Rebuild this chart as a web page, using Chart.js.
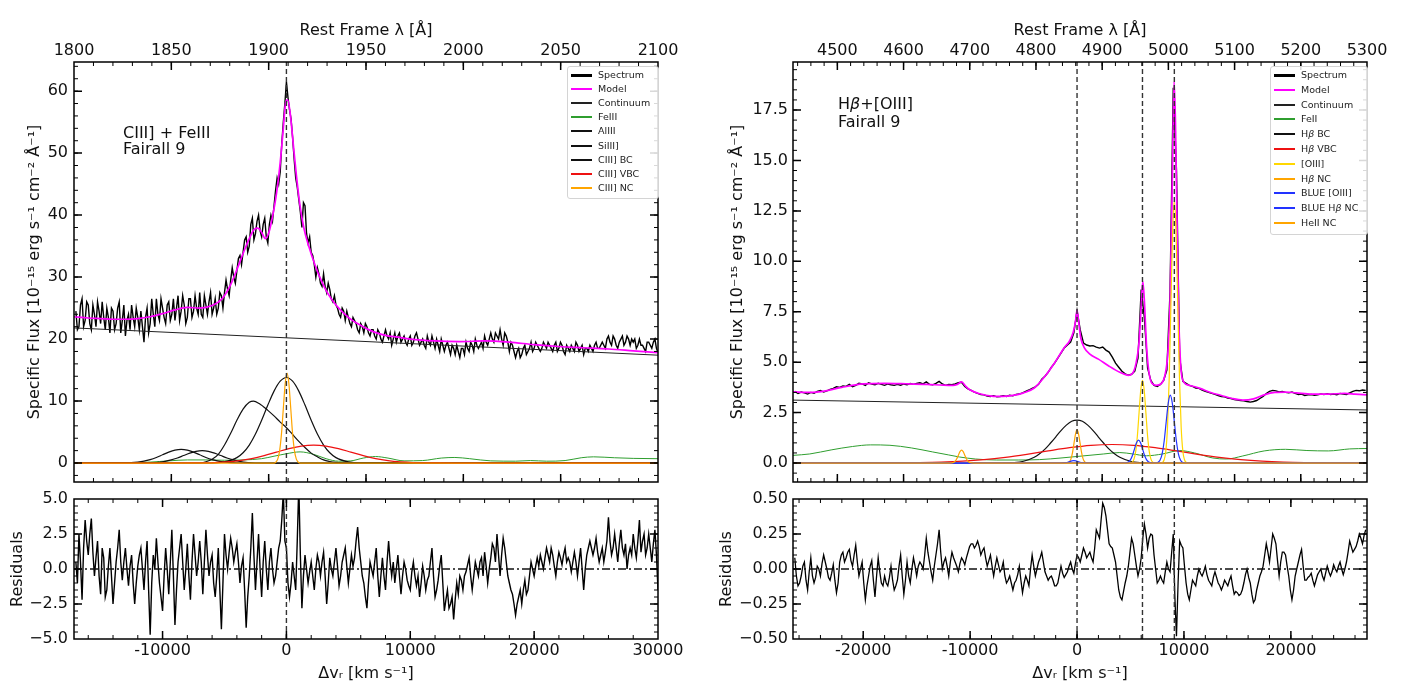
<!DOCTYPE html>
<html><head><meta charset="utf-8">
<script src="https://cdn.jsdelivr.net/npm/chart.js@4.4.0/dist/chart.umd.min.js"></script>
<style>
body{margin:0;background:#fff;width:1411px;height:700px;overflow:hidden;position:relative;font-family:'DejaVu Sans',sans-serif;}
canvas{position:absolute;left:0;top:0;}
.legend{position:absolute;border:1px solid #d4d4d4;border-radius:3px;background:rgba(255,255,255,0.85);font-size:9.5px;color:#222;}
.legend .row{position:absolute;height:14px;line-height:14px;white-space:nowrap;}
.legend .sw{position:absolute;}
.note{position:absolute;font-size:16px;color:#111;white-space:nowrap;}
</style></head><body>
<canvas id="c1" width="1411" height="700"></canvas>
<canvas id="c2" width="1411" height="700"></canvas>
<canvas id="c3" width="1411" height="700"></canvas>
<canvas id="c4" width="1411" height="700"></canvas>
<div class="note" style="left:123px;top:125px;line-height:16px;">CIII] + FeIII<br>Fairall 9</div>
<div class="note" style="left:838px;top:95px;line-height:18px;">H<i>β</i>+[OIII]<br>Fairall 9</div>
<script>
// ---------------- axis ranges & ticks ----------------
const leftVelRange = [-17150, 30000];
const leftLambdaRange = [1800, 2100];
const leftFluxRange = [-3.06, 64.7];
const leftResRange = [-5, 5];
const rightVelRange = [-26567, 27120];
const rightLambdaRange = [4433, 5300];
const rightFluxRange = [-0.94, 19.88];
const rightResRange = [-0.5, 0.5];

const leftLambdaTicks = [1800, 1850, 1900, 1950, 2000, 2050, 2100];
const leftVelTicks = [-10000, 0, 10000, 20000, 30000];
const leftFluxTicks = [0, 10, 20, 30, 40, 50, 60];
const leftResTicks = [-5, -2.5, 0, 2.5, 5];
const rightLambdaTicks = [4500, 4600, 4700, 4800, 4900, 5000, 5100, 5200, 5300];
const rightVelTicks = [-20000, -10000, 0, 10000, 20000];
const rightFluxTicks = [0, 2.5, 5, 7.5, 10, 12.5, 15, 17.5];
const rightResTicks = [-0.5, -0.25, 0, 0.25, 0.5];

const leftLineVel = [0];
const rightLineVel = [0, 6120, 9100];

// ---------------- left panel (CIII]) ----------------
const leftSpecGrid = [-17000, 30000];
const leftSpecFlux = [
24.5,22.0,26.5,23.0,25.5,21.5,24.0,26.0,22.5,23.5,
25.0,21.0,24.5,22.5,26.0,23.0,20.5,24.0,25.5,22.0,
23.5,24.5,19.5,25.0,22.5,24.0,26.5,23.0,25.0,22.5,
26.0,24.0,23.0,27.0,24.5,25.5,23.5,26.5,24.5,25.0,
27.5,23.5,25.5,26.0,24.0,26.5,25.0,27.0,27.5,28.0,
29.5,30.0,31.0,33.5,34.0,36.5,35.0,39.5,37.0,40.0,
36.5,39.5,35.5,40.0,41.5,46.0,47.0,55.0,61.5,57.0,
52.5,46.0,42.5,38.0,41.5,35.5,34.0,32.0,31.5,29.0,
30.5,27.5,28.0,26.0,25.5,24.0,25.0,23.0,23.5,22.0,
23.0,21.5,22.5,21.0,22.0,20.5,21.5,20.0,21.0,19.5,
21.5,20.0,19.0,21.0,20.5,19.5,20.5,19.0,20.5,19.5,
21.0,19.0,20.0,18.5,19.5,20.5,18.5,19.0,20.0,18.0,
19.5,17.5,18.5,19.0,17.0,18.5,19.5,18.0,19.0,20.0,
18.5,19.5,20.5,19.0,21.0,19.5,20.5,21.5,19.0,20.5,
18.0,19.0,17.0,18.5,17.5,19.0,18.0,19.5,18.5,19.0,
18.0,19.5,18.5,19.0,18.0,19.5,18.5,19.0,17.5,18.5,
19.0,18.0,19.0,18.5,17.5,18.5,19.0,18.0,19.5,18.5,
19.5,18.5,20.5,19.0,20.0,18.5,20.0,19.0,20.5,19.0,
19.5,18.5,20.0,19.0,18.0,19.5,18.5,20.0,17.8];
// values read between the samples above
const leftSpecFluxMid = [
21.5,25.5,22.0,26.0,22.5,25.5,22.0,24.5,26.0,21.5,
23.5,25.0,21.5,25.0,21.0,25.5,23.0,21.5,23.5,25.0,
21.5,22.0,23.5,21.0,26.5,22.0,24.0,26.5,23.5,25.5,
23.0,26.5,25.0,23.0,27.0,22.5,26.5,23.5,27.0,24.0,
24.0,27.0,24.0,27.5,25.0,24.0,27.5,25.0,29.5,27.0,
31.5,29.0,33.0,32.0,36.0,34.0,38.5,36.0,39.0,37.5,
38.5,36.5,38.5,39.0,44.0,45.0,51.5,58.0,59.0,55.5,
49.0,44.5,40.5,42.0,37.0,36.5,33.5,30.0,30.5,28.5,
28.5,29.0,26.5,27.0,25.0,23.5,24.5,24.5,22.5,23.5,
22.5,21.0,22.0,22.5,21.0,21.5,20.5,21.5,20.0,20.5,
20.5,21.0,20.0,19.5,21.0,20.0,19.5,20.0,19.0,20.5,
20.0,19.5,19.0,20.5,19.0,19.5,20.0,18.0,19.0,19.0,
18.5,19.0,17.5,18.0,18.5,17.5,18.5,19.5,18.0,19.0,
19.0,18.5,19.5,20.0,20.0,21.0,20.0,20.0,21.0,19.5,
19.5,18.0,18.0,17.0,18.5,17.5,18.5,18.0,19.5,18.5,
18.5,19.0,19.5,18.5,19.0,18.0,19.5,18.0,19.0,18.0,
18.5,19.5,18.0,19.0,18.5,18.0,18.5,19.0,18.5,19.0,
19.0,20.0,19.5,20.5,19.0,19.5,20.5,19.5,20.0,20.0,
20.0,19.0,19.0,18.5,19.5,19.0,19.5,18.5];
const leftResid = [
0.5,2.5,-2.2,3.5,1.0,3.6,-0.5,2.0,-1.8,0.8,
-1.5,1.5,-2.5,0.5,2.8,-0.8,1.5,-1.2,1.0,-2.5,
0.2,1.5,-1.5,2.0,-4.7,1.0,2.2,-1.0,-3.0,1.5,
-1.8,2.8,-4.0,0.5,2.5,-1.5,1.8,-2.2,2.5,-0.5,
2.0,-1.8,2.8,-0.5,1.0,-2.0,1.5,-4.3,2.5,0.0,
2.2,0.5,1.8,-1.0,0.8,-4.2,-0.5,4.0,-1.5,2.5,
-2.0,2.0,-1.5,1.5,-1.0,0.5,2.0,5.5,1.5,-2.0,
0.5,-1.5,6.0,-2.8,1.0,-1.0,0.5,-1.5,1.0,-0.5,
1.2,-2.5,0.8,-0.5,1.5,-1.2,0.5,1.5,-1.0,1.0,
0.8,3.0,0.5,-1.0,-2.8,0.5,-0.5,1.5,-2.0,0.8,
-1.5,2.0,-0.5,-1.0,1.0,-1.8,0.5,-0.8,-1.5,0.5,
-1.2,-2.0,0.2,-1.5,-0.5,1.5,-2.0,-0.8,1.0,-3.0,
-1.5,-2.5,-3.6,-1.0,-0.5,-1.5,-0.2,0.8,-1.5,0.5,
-0.5,0.8,1.2,-1.0,0.8,1.5,2.5,-0.5,2.2,0.5,
-1.0,-1.8,-3.3,-2.0,-2.5,-0.8,-1.5,0.5,-0.5,0.8,
1.0,0.0,1.5,0.5,1.0,-0.5,1.2,0.3,1.5,0.8,
-0.2,1.2,-0.5,1.5,-1.5,1.0,2.0,1.0,2.2,0.5,
1.5,1.2,3.7,1.0,2.5,0.5,2.8,1.0,0.0,1.5,
2.5,0.8,3.5,2.0,1.0,2.5,0.5,2.8,-1.5];
const leftResidMid = [
-1.0,0.5,1.5,2.0,2.5,1.2,0.8,-0.5,1.5,-2.0,
0.2,-0.5,-1.0,1.5,0.5,0.5,0.0,0.2,-1.0,-1.0,
1.0,0.0,0.5,-1.5,-1.0,0.0,0.5,-2.0,-0.5,0.0,
0.5,-0.5,-1.5,1.5,0.5,0.0,-0.5,0.5,1.0,0.5,
0.5,0.5,1.0,0.5,-1.0,-0.5,-1.5,-1.0,1.0,1.2,
1.5,1.2,0.5,0.2,-1.5,-2.0,1.5,1.0,0.5,0.0,
0.5,0.0,0.5,0.0,-0.5,1.5,3.5,2.0,-1.0,-1.0,
-0.5,2.0,1.0,-0.5,0.0,-0.2,-0.5,0.0,0.5,0.5,
-0.5,-1.0,0.0,0.5,0.2,-0.5,1.0,0.2,0.0,0.2,
2.0,1.5,-0.5,-2.0,-1.0,0.0,0.5,-0.5,-0.5,-0.5,
0.5,0.5,0.5,0.0,-0.5,-0.5,0.0,-1.2,-0.2,-0.5,
-0.5,-1.0,-0.5,-0.8,0.5,-0.5,-1.5,0.2,-1.0,-2.2,
-2.8,-2.0,-2.2,-1.8,-0.8,-0.5,0.3,-0.5,-0.5,0.0,
0.5,-0.5,0.2,0.0,1.8,0.5,1.0,1.0,1.5,-0.5,
-1.5,-2.5,-2.5,-1.5,-1.5,-1.8,-0.5,0.0,0.2,0.2,
0.5,0.8,1.0,1.5,0.2,0.5,0.8,1.0,0.5,0.5,
0.5,0.5,0.5,0.0,0.0,1.5,1.5,1.5,1.2,1.0,
0.5,2.0,2.0,1.5,1.5,1.8,1.5,1.8,1.0,1.0,
1.5,2.0,1.2,2.5,1.5,1.5,1.8,1.0];

const leftModelV = [-17150,-16000,-15000,-14000,-13000,-12000,-11000,-10000,-9000,-8000,-7000,-6000,-5200,-4500,-4000,-3500,-3000,-2600,-2300,-2000,-1700,-1400,-1100,-800,-500,-250,-50,100,300,550,800,1100,1400,1800,2300,2800,3300,4000,5000,6000,7000,8000,9000,10000,12000,14000,16000,18000,20000,22000,24000,26000,28000,30000];
const leftModelF = [23.6,23.4,23.3,23.2,23.2,23.3,23.6,24.1,24.7,25.1,25.0,25.4,26.5,28.8,31.2,33.8,36.2,37.7,37.9,37.2,36.2,37.3,40.0,43.5,48.5,54.0,58.3,58.6,56.5,51.5,46.5,41.5,38.0,35.0,32.0,29.5,27.5,25.5,23.5,22.2,21.2,20.6,20.3,20.0,19.7,19.6,19.7,19.5,19.1,18.8,18.6,18.4,18.1,17.8];
const leftContV = [-17150, 30000];
const leftContF = [21.8, 17.4];
const leftFeV = [-17150,-13000,-11000,-9500,-8000,-6500,-5000,-3500,-2000,-1000,0,1100,2200,3200,4200,5200,6200,7200,8200,9500,11000,12500,13600,14800,16500,18500,19700,21000,22500,23800,24800,26500,28000,30000];
const leftFeF = [0.02,0.05,0.15,0.35,0.5,0.5,0.45,0.5,0.7,1.1,1.5,1.8,1.4,0.7,0.3,0.35,0.8,1.05,0.8,0.35,0.4,0.8,0.9,0.7,0.35,0.3,0.4,0.3,0.4,0.85,1.0,0.85,0.75,0.7];
const alIIIaV = [-17150,-13000,-12000,-11500,-11000,-10500,-10000,-9500,-9000,-8500,-8000,-7500,-7000,-6500,-6000,-5500,-5000,-4000,-3000,30000];
const alIIIaF = [0,0.02,0.15,0.3,0.55,0.9,1.33,1.76,2.08,2.2,2.08,1.76,1.33,0.9,0.55,0.3,0.15,0.02,0,0];
const alIIIbV = [-17150,-11500,-10500,-9800,-9300,-8800,-8300,-7800,-7300,-6800,-6300,-5800,-5300,-4800,-4300,-3800,-3100,-2000,30000];
const alIIIbF = [0,0.02,0.09,0.27,0.5,0.82,1.21,1.6,1.89,2.0,1.89,1.6,1.21,0.82,0.5,0.27,0.09,0,0];
const siIIIV = [-17150,-7000,-6500,-6000,-5500,-5000,-4500,-4000,-3500,-3000,-2660,-2200,-1500,-1000,-500,0,500,1000,1500,2000,2500,3000,3500,4000,5000,30000];
const siIIIF = [0,0,0.2,0.6,1.4,2.9,4.8,6.9,8.7,9.8,10.0,9.6,8.5,7.6,6.6,5.7,4.6,3.5,2.5,1.6,1.0,0.5,0.25,0.1,0,0];
const cBCV = [-17150,-6000,-5000,-4000,-3500,-3000,-2500,-2000,-1500,-1000,-500,0,500,1000,1500,2000,2500,3000,3500,4000,5000,6000,30000];
const cBCF = [0,0,0.18,0.87,1.66,2.9,4.68,6.9,9.35,11.6,13.2,13.8,13.2,11.6,9.35,6.9,4.68,2.9,1.66,0.87,0.18,0,0];
const cVBCV = [-17150,-9800,-7800,-6800,-5800,-4800,-3800,-2800,-1800,-800,200,1200,2200,3200,4200,5200,6200,7200,8200,9200,10200,11200,12200,14200,30000];
const cVBCF = [0,0,0.01,0.03,0.08,0.19,0.39,0.72,1.19,1.76,2.32,2.74,2.9,2.74,2.32,1.76,1.19,0.72,0.39,0.19,0.08,0.03,0.01,0,0];
const cNCV = [-17150,-1000,-850,-700,-550,-400,-250,-100,50,200,350,500,650,800,950,1100,30000];
const cNCF = [0,0,0.16,0.64,1.96,4.7,8.8,12.8,14.5,12.8,8.8,4.7,1.96,0.64,0.16,0,0];

// ---------------- right panel (Hbeta + [OIII]) ----------------
const rightSpecGrid = [-26400, 27000];
const rightSpecFlux = [
3.55,3.45,3.52,3.48,3.42,3.50,3.46,3.55,3.60,3.52,
3.58,3.65,3.70,3.78,3.75,3.82,3.80,3.90,3.78,3.85,
3.95,3.92,3.85,3.98,3.92,3.88,3.95,3.90,3.85,3.92,
3.88,3.85,3.90,3.86,3.92,3.88,3.94,3.90,3.95,3.98,
3.92,4.02,3.90,3.88,3.95,4.05,3.92,3.85,3.90,3.88,
3.92,3.98,4.00,3.80,3.68,3.60,3.52,3.45,3.40,3.38,
3.32,3.30,3.34,3.28,3.30,3.34,3.30,3.36,3.33,3.40,
3.42,3.48,3.55,3.62,3.70,3.78,3.90,4.15,4.30,4.50,
4.75,4.95,5.20,5.45,5.70,5.85,6.00,6.45,7.55,6.60,
5.95,5.85,5.80,5.82,5.75,5.70,5.75,5.60,5.50,5.25,
4.95,4.75,4.55,4.42,4.35,4.40,4.55,5.20,8.60,7.20,
4.70,4.10,3.85,3.80,3.90,4.10,4.60,8.50,18.6,14.5,
5.20,4.05,3.95,3.85,3.80,3.72,3.70,3.62,3.55,3.50,
3.45,3.40,3.35,3.30,3.28,3.22,3.20,3.15,3.12,3.10,
3.08,3.05,3.02,3.05,3.10,3.20,3.30,3.45,3.55,3.60,
3.58,3.52,3.55,3.50,3.48,3.52,3.45,3.40,3.42,3.35,
3.38,3.40,3.36,3.38,3.42,3.40,3.44,3.40,3.42,3.38,
3.45,3.42,3.40,3.48,3.55,3.60,3.58,3.62,3.60];
const rightResid = [
0.08,-0.12,-0.05,0.05,-0.15,0.08,-0.10,0.02,-0.05,0.10,
0.00,-0.08,0.03,-0.17,0.05,0.12,0.08,0.14,0.02,0.17,
-0.05,0.05,-0.22,-0.05,0.06,-0.20,0.08,-0.10,-0.05,-0.12,
0.02,-0.15,-0.08,0.10,-0.18,0.05,-0.10,0.08,-0.05,0.05,
0.00,0.22,0.05,-0.08,0.10,0.28,0.00,0.08,-0.05,0.12,
0.05,-0.02,0.08,0.03,0.12,0.18,0.15,0.20,0.10,0.15,
0.02,0.10,-0.05,0.08,-0.02,0.05,-0.10,-0.05,-0.15,-0.08,
0.02,-0.17,-0.05,-0.12,0.10,-0.05,0.05,0.12,-0.02,-0.08,
-0.05,-0.12,-0.10,0.02,-0.06,-0.02,0.05,-0.03,0.10,0.05,
0.15,0.08,0.12,0.05,0.28,0.22,0.47,0.38,0.18,0.15,
0.05,-0.15,-0.22,-0.10,0.02,0.22,0.10,-0.05,0.08,0.32,
0.15,0.25,0.10,-0.10,-0.05,-0.10,0.05,-0.02,0.25,-0.48,
0.20,0.15,-0.10,-0.22,-0.08,-0.12,0.00,-0.05,0.02,-0.08,
-0.12,-0.02,-0.10,-0.15,-0.08,-0.12,-0.05,-0.18,-0.17,-0.18,
-0.10,0.00,-0.10,-0.24,-0.15,-0.05,0.02,0.18,0.05,0.25,
0.18,-0.05,0.12,0.10,-0.05,-0.22,-0.05,0.05,0.14,-0.08,
-0.06,-0.03,-0.12,-0.04,0.00,-0.08,0.02,-0.05,0.03,-0.02,
0.05,-0.04,0.05,0.20,0.12,0.16,0.25,0.18,0.28];
const rightResidMid = [
-0.05,-0.10,0.02,-0.08,-0.02,-0.05,-0.06,0.00,0.04,0.05,
-0.06,-0.03,-0.08,-0.10,0.10,0.05,0.12,0.06,0.10,0.05,
0.00,-0.10,-0.12,0.02,-0.08,-0.05,-0.02,-0.12,-0.10,-0.06,
-0.08,-0.12,0.02,-0.05,-0.08,-0.05,0.00,0.02,0.02,0.03,
0.10,0.12,-0.02,0.02,0.18,0.12,0.05,0.02,0.05,0.08,
0.02,0.04,0.06,0.08,0.16,0.18,0.17,0.16,0.13,0.08,
0.06,0.02,0.02,0.03,0.00,-0.05,-0.08,-0.10,-0.10,-0.04,
-0.08,-0.10,-0.08,0.00,0.02,0.00,0.08,0.05,-0.05,-0.06,
-0.08,-0.12,-0.04,-0.03,-0.04,0.02,0.00,0.04,0.08,0.10,
0.12,0.10,0.08,0.15,0.25,0.35,0.44,0.28,0.16,0.10,
-0.05,-0.20,-0.16,-0.05,0.12,0.18,0.02,0.00,0.22,0.25,
0.22,0.24,0.00,-0.08,-0.08,-0.02,0.00,0.12,-0.20,-0.10,
0.17,0.02,-0.18,-0.15,-0.10,-0.05,-0.03,-0.02,-0.04,-0.10,
-0.06,-0.06,-0.12,-0.12,-0.10,-0.08,-0.12,-0.16,-0.19,-0.15,
-0.04,-0.06,-0.18,-0.22,-0.10,-0.02,0.10,0.12,0.15,0.22,
0.06,0.05,0.12,0.02,-0.15,-0.15,0.00,0.10,0.02,-0.08,
-0.05,-0.08,-0.08,-0.02,-0.05,-0.03,-0.02,-0.02,0.00,0.02,
0.00,0.00,0.12,0.16,0.14,0.20,0.22,0.24];

const rightModelV = [-26567,-25000,-23500,-22000,-20000,-18000,-16000,-14000,-12500,-11600,-11200,-10800,-10400,-10000,-9000,-8000,-7000,-6000,-5000,-4000,-3000,-2000,-1200,-700,-350,-150,0,150,350,700,1200,2000,3000,4000,4800,5200,5500,5800,6000,6150,6300,6500,6700,7000,7400,7900,8200,8500,8700,8850,8980,9080,9200,9350,9500,9700,10000,10500,11500,12500,13500,14500,15500,16500,17500,18500,19500,20500,22000,23500,25000,26000,27120];
const rightModelF = [3.53,3.5,3.58,3.75,3.92,3.95,3.93,3.9,3.86,3.85,3.9,4.02,3.8,3.62,3.42,3.32,3.3,3.35,3.48,3.72,4.3,5.05,5.72,6.05,6.5,7.0,7.58,7.0,6.2,5.7,5.4,5.15,4.8,4.5,4.35,4.45,4.9,6.0,7.8,8.99,8.0,5.8,4.6,3.95,3.85,3.95,4.3,5.5,8.0,12.0,16.5,18.9,17.0,12.0,7.5,4.8,4.0,3.85,3.7,3.5,3.35,3.2,3.12,3.18,3.38,3.5,3.52,3.48,3.42,3.42,3.45,3.42,3.38];
const rightContV = [-26567, 27120];
const rightContF = [3.12, 2.63];
const rFeV = [-26567,-25000,-23000,-21000,-19300,-17500,-15500,-13500,-12000,-11000,-9500,-7500,-5500,-3500,-1500,500,2500,4000,5200,6500,8000,9600,11000,12700,14000,15500,17500,19500,21500,23500,25500,27120];
const rFeF = [0.38,0.45,0.65,0.82,0.9,0.88,0.75,0.55,0.4,0.3,0.2,0.15,0.15,0.17,0.25,0.35,0.45,0.52,0.45,0.36,0.45,0.62,0.5,0.25,0.2,0.35,0.6,0.68,0.62,0.6,0.7,0.72];
const rBCV = [-26567,-7000,-6000,-5000,-4000,-3500,-3000,-2500,-2000,-1500,-1000,-500,0,500,1000,1500,2000,2500,3000,3500,4000,5000,6000,7000,27120];
const rBCF = [0,0,0.02,0.09,0.29,0.46,0.69,0.98,1.29,1.61,1.88,2.07,2.13,2.07,1.88,1.61,1.29,0.98,0.69,0.46,0.29,0.09,0.02,0,0];
const rVBCV = [-26567,-18700,-16700,-14700,-12700,-10700,-8700,-6700,-4700,-2700,-700,1300,3300,5300,7300,9300,11300,13300,15300,17300,19300,21300,23300,25300,27120];
const rVBCF = [0,0.003,0.008,0.02,0.044,0.09,0.167,0.282,0.432,0.601,0.761,0.878,0.92,0.878,0.761,0.601,0.432,0.282,0.167,0.09,0.044,0.02,0.008,0.003,0.001];
const oIIIV = [-26567,4880,5160,5320,5480,5640,5800,5960,6120,6280,6440,6600,6760,6920,7080,7360,7860,8140,8300,8460,8620,8780,8940,9100,9260,9420,9580,9740,9900,10060,10220,10500,27120];
const oIIIF = [0,0,0.045,0.18,0.55,1.33,2.49,3.62,4.1,3.62,2.49,1.33,0.55,0.18,0.045,0,0,0.15,0.57,1.76,4.22,7.88,11.47,13.0,11.47,7.88,4.22,1.76,0.57,0.15,0.03,0,0];
const rNCV = [-26567,-1000,-840,-700,-560,-420,-280,-140,0,140,280,420,560,700,840,1000,27120];
const rNCF = [0,0,0.018,0.072,0.22,0.53,0.995,1.45,1.64,1.45,0.995,0.53,0.22,0.072,0.018,0,0];
const blueOIIIV = [-26567,4500,4800,4990,5180,5370,5560,5750,5940,6130,6320,6510,6700,7000,7400,7580,7770,7960,8150,8340,8530,8720,8910,9100,9290,9480,9670,9860,10100,27120];
const blueOIIIF = [0,0.005,0.05,0.154,0.37,0.691,1.006,1.14,1.006,0.691,0.37,0.154,0.05,0.005,0,0.037,0.148,0.456,1.094,2.044,2.974,3.37,2.974,2.044,1.094,0.456,0.148,0.037,0,0];
const blueHbV = [-26567,-1500,-1060,-870,-680,-490,-300,-110,80,270,460,900,27120];
const blueHbF = [0,0,0.016,0.039,0.073,0.106,0.12,0.106,0.073,0.039,0.016,0,0];
const heIIV = [-26567,-12000,-11700,-11400,-11250,-11100,-10950,-10800,-10650,-10500,-10350,-10200,-9900,-9600,27120];
const heIIF = [0,0,0.007,0.087,0.21,0.39,0.565,0.64,0.565,0.39,0.21,0.087,0.007,0,0];

// ---------------- helpers ----------------
const FONT = "'DejaVu Sans', sans-serif";
const INK = '#111';
function xy(V, F) { return V.map((v, i) => ({x: v, y: F[i]})); }
function interleave(a, m) { const o = []; a.forEach((v, i) => { o.push(v); if (i < m.length) o.push(m[i]); }); return o; }
function onGrid(g, F) { const n = F.length; return F.map((f, i) => ({x: g[0] + i * (g[1] - g[0]) / (n - 1), y: f})); }
function ds(label, data, color, width, extra) {
  return Object.assign({label, data, borderColor: color, backgroundColor: color, borderWidth: width,
    pointRadius: 0, fill: false, tension: 0}, extra || {});
}
const smooth = {cubicInterpolationMode: 'monotone'};
function vlines(vals, yr) {
  return vals.map(v => ds('', [{x: v, y: yr[0]}, {x: v, y: yr[1]}], '#333', 1.4, {borderDash: [5, 3]}));
}
function hzero(xr) { return ds('', [{x: xr[0], y: 0}, {x: xr[1], y: 0}], '#111', 1.3, {borderDash: [8, 3, 2, 3]}); }
function minors(r, step) { const o = []; for (let v = Math.ceil(r[0] / step) * step; v <= r[1] + 1e-9; v += step) o.push(+v.toFixed(6)); return o; }
function minusFmt(d) { return v => (v < 0 ? '\u2212' : '') + Math.abs(v).toFixed(d); }
function setTicks(arr) { return s => { s.ticks = arr.map(v => ({value: v})); }; }
function tickOpts(fmt, pad) { return {autoSkip: false, maxRotation: 0, minRotation: 0, padding: pad, color: INK, font: {size: 16, family: FONT}, callback: fmt}; }
function titleOpts(text, pad) { return {display: true, text, color: INK, font: {size: 16, family: FONT}, padding: pad}; }
const base = () => ({grid: {display: false, drawTicks: false}, border: {display: false}});

const frameTicks = {
  id: 'frameTicks',
  afterDatasetsDraw(chart, args, o) {
    const {ctx, chartArea: a} = chart;
    const xs = chart.scales[o.xScale], ys = chart.scales.y;
    ctx.save();
    ctx.strokeStyle = '#000';
    const dx = (vals, len, w) => {
      ctx.lineWidth = w; ctx.beginPath();
      vals.forEach(v => { const p = xs.getPixelForValue(v); if (p < a.left + 1 || p > a.right - 1) return;
        ctx.moveTo(p, a.bottom); ctx.lineTo(p, a.bottom - len); ctx.moveTo(p, a.top); ctx.lineTo(p, a.top + len); });
      ctx.stroke();
    };
    const dy = (vals, len, w) => {
      ctx.lineWidth = w; ctx.beginPath();
      vals.forEach(v => { const p = ys.getPixelForValue(v); if (p < a.top + 1 || p > a.bottom - 1) return;
        ctx.moveTo(a.left, p); ctx.lineTo(a.left + len, p); ctx.moveTo(a.right, p); ctx.lineTo(a.right - len, p); });
      ctx.stroke();
    };
    dx(o.xMinor, 4, 1); dy(o.yMinor, 4, 1);
    dx(o.xMajor, 8, 1.5); dy(o.yMajor, 8, 1.5);
    ctx.lineWidth = 1.5;
    ctx.strokeRect(a.left, a.top, a.right - a.left, a.bottom - a.top);
    ctx.restore();
  }
};

function makeChart(id, datasets, padding, scales, frame) {
  datasets.forEach((d, i) => { d.order = -i; });
  return new Chart(document.getElementById(id), {
    type: 'line',
    data: {datasets},
    options: {responsive: false, animation: false, events: [], spanGaps: false,
      layout: {padding},
      plugins: {legend: {display: false}, tooltip: {enabled: false}, frameTicks: frame},
      scales},
    plugins: [frameTicks]
  });
}

function buildLegend(chart, box, first, step) {
  const el = document.createElement('div'); el.className = 'legend';
  el.style.left = box[0] + 'px'; el.style.top = box[1] + 'px'; el.style.width = box[2] + 'px'; el.style.height = box[3] + 'px';
  chart.data.datasets.filter(d => d.label).forEach((d, i) => {
    const cy = Math.round(first + i * step - box[1]);
    const sw = document.createElement('div'); sw.className = 'sw';
    const h = d.legendWidth || 2;
    sw.style.left = '3px'; sw.style.width = '21px'; sw.style.top = (cy - Math.floor(h / 2) - 1) + 'px';
    sw.style.height = h + 'px'; sw.style.background = d.borderColor;
    const tx = document.createElement('div'); tx.className = 'row'; tx.style.left = '30px'; tx.style.top = (cy - 8) + 'px';
    d.label.split('β').forEach((part, k) => { if (k) { const it = document.createElement('i'); it.textContent = 'β'; tx.appendChild(it); } tx.appendChild(document.createTextNode(part)); });
    el.appendChild(sw); el.appendChild(tx);
  });
  document.body.appendChild(el);
}

const FLUX_TITLE = 'Specific Flux [10\u207B\u00B9\u2075 erg s\u207B\u00B9 cm\u207B\u00B2 \u00C5\u207B\u00B9]';
const VEL_TITLE = '\u0394v\u1D63 [km s\u207B\u00B9]';
const GREEN = '#2f9e2f', RED = '#ee1111', ORANGE = '#ffa500', GOLD = '#ffd700', BLUE = '#2233ff', MAG = '#ff00ff';

// ---------------- chart 1: left main ----------------
const c1 = makeChart('c1', [
  ds('Spectrum', onGrid(leftSpecGrid, interleave(leftSpecFlux, leftSpecFluxMid)), '#000', 1.4, {legendWidth: 3}),
  ds('Model', xy(leftModelV, leftModelF), MAG, 1.7, smooth),
  ds('Continuum', xy(leftContV, leftContF), '#222', 1),
  ds('FeIII', xy(leftFeV, leftFeF), GREEN, 1, smooth),
  ds('AlIII', xy(alIIIaV, alIIIaF), '#111', 1.2, smooth),
  ds('', xy(alIIIbV, alIIIbF), '#111', 1.2, smooth),
  ds('SiIII]', xy(siIIIV, siIIIF), '#111', 1.2, smooth),
  ds('CIII] BC', xy(cBCV, cBCF), '#111', 1.2, smooth),
  ds('CIII] VBC', xy(cVBCV, cVBCF), RED, 1.2, smooth),
  ds('CIII] NC', xy(cNCV, cNCF), ORANGE, 1.2, smooth),
  ...vlines(leftLineVel, leftFluxRange)
], {left: 0, top: 0, right: 753, bottom: 218}, {
  x: {type: 'linear', min: leftVelRange[0], max: leftVelRange[1], display: false},
  x2: Object.assign(base(), {type: 'linear', axis: 'x', position: 'top', min: leftLambdaRange[0], max: leftLambdaRange[1],
    afterBuildTicks: setTicks(leftLambdaTicks), afterFit: s => { s.height = 62; },
    ticks: tickOpts(v => String(v), 2), title: titleOpts('Rest Frame λ [Å]', {top: 21, bottom: 0})}),
  y: Object.assign(base(), {type: 'linear', position: 'left', min: leftFluxRange[0], max: leftFluxRange[1],
    afterBuildTicks: setTicks(leftFluxTicks), afterFit: s => { s.width = 74; },
    ticks: tickOpts(v => String(v), 6), title: titleOpts(FLUX_TITLE, {top: 25, bottom: 0})})
}, {xScale: 'x2', xMajor: leftLambdaTicks, xMinor: minors(leftLambdaRange, 10), yMajor: leftFluxTicks, yMinor: minors(leftFluxRange, 2)});

// ---------------- chart 2: left residuals ----------------
makeChart('c2', [
  ds('', onGrid(leftSpecGrid, interleave(leftResid, leftResidMid)), '#000', 1.4),
  hzero(leftVelRange),
  ...vlines(leftLineVel, leftResRange)
], {left: 0, top: 499, right: 753, bottom: 0}, {
  x: Object.assign(base(), {type: 'linear', position: 'bottom', min: leftVelRange[0], max: leftVelRange[1],
    afterBuildTicks: setTicks(leftVelTicks), afterFit: s => { s.height = 61; },
    ticks: tickOpts(v => String(v), 2), title: titleOpts(VEL_TITLE, {top: 0, bottom: 17})}),
  y: Object.assign(base(), {type: 'linear', position: 'left', min: leftResRange[0], max: leftResRange[1],
    afterBuildTicks: setTicks(leftResTicks), afterFit: s => { s.width = 74; },
    ticks: tickOpts(minusFmt(1), 6), title: titleOpts('Residuals', {top: 8, bottom: 0})})
}, {xScale: 'x', xMajor: leftVelTicks, xMinor: minors(leftVelRange, 2000), yMajor: leftResTicks, yMinor: minors(leftResRange, 0.5)});

// ---------------- chart 3: right main ----------------
const c3 = makeChart('c3', [
  ds('Spectrum', onGrid(rightSpecGrid, rightSpecFlux), '#000', 1.4, {legendWidth: 3}),
  ds('Model', xy(rightModelV, rightModelF), MAG, 1.7, smooth),
  ds('Continuum', xy(rightContV, rightContF), '#222', 1),
  ds('FeII', xy(rFeV, rFeF), GREEN, 1, smooth),
  ds('Hβ BC', xy(rBCV, rBCF), '#111', 1.2, smooth),
  ds('Hβ VBC', xy(rVBCV, rVBCF), RED, 1.2, smooth),
  ds('[OIII]', xy(oIIIV, oIIIF), GOLD, 1.2, smooth),
  ds('Hβ NC', xy(rNCV, rNCF), ORANGE, 1.2, smooth),
  ds('BLUE [OIII]', xy(blueOIIIV, blueOIIIF), BLUE, 1.2, smooth),
  ds('BLUE Hβ NC', xy(blueHbV, blueHbF), BLUE, 1.2, smooth),
  ds('HeII NC', xy(heIIV, heIIF), ORANGE, 1.2, smooth),
  ...vlines(rightLineVel, rightFluxRange)
], {left: 713, top: 0, right: 44, bottom: 218}, {
  x: {type: 'linear', min: rightVelRange[0], max: rightVelRange[1], display: false},
  x2: Object.assign(base(), {type: 'linear', axis: 'x', position: 'top', min: rightLambdaRange[0], max: rightLambdaRange[1],
    afterBuildTicks: setTicks(rightLambdaTicks), afterFit: s => { s.height = 62; },
    ticks: tickOpts(v => String(v), 2), title: titleOpts('Rest Frame λ [Å]', {top: 21, bottom: 0})}),
  y: Object.assign(base(), {type: 'linear', position: 'left', min: rightFluxRange[0], max: rightFluxRange[1],
    afterBuildTicks: setTicks(rightFluxTicks), afterFit: s => { s.width = 80; },
    ticks: tickOpts(v => v.toFixed(1), 5), title: titleOpts(FLUX_TITLE, {top: 15, bottom: 0})})
}, {xScale: 'x2', xMajor: rightLambdaTicks, xMinor: minors(rightLambdaRange, 20), yMajor: rightFluxTicks, yMinor: minors(rightFluxRange, 0.5)});

// ---------------- chart 4: right residuals ----------------
makeChart('c4', [
  ds('', onGrid(rightSpecGrid, interleave(rightResid, rightResidMid)), '#000', 1.3),
  hzero(rightVelRange),
  ...vlines(rightLineVel, rightResRange)
], {left: 713, top: 499, right: 44, bottom: 0}, {
  x: Object.assign(base(), {type: 'linear', position: 'bottom', min: rightVelRange[0], max: rightVelRange[1],
    afterBuildTicks: setTicks(rightVelTicks), afterFit: s => { s.height = 61; },
    ticks: tickOpts(v => String(v), 2), title: titleOpts(VEL_TITLE, {top: 0, bottom: 17})}),
  y: Object.assign(base(), {type: 'linear', position: 'left', min: rightResRange[0], max: rightResRange[1],
    afterBuildTicks: setTicks(rightResTicks), afterFit: s => { s.width = 80; },
    ticks: tickOpts(minusFmt(2), 5), title: titleOpts('Residuals', {top: 4, bottom: 0})})
}, {xScale: 'x', xMajor: rightVelTicks, xMinor: minors(rightVelRange, 2000), yMajor: rightResTicks, yMinor: minors(rightResRange, 0.05)});

buildLegend(c1, [567, 66, 90, 131], 75, 14.1);
buildLegend(c3, [1270, 66, 96, 167], 75, 14.8);
</script>
</body></html>
